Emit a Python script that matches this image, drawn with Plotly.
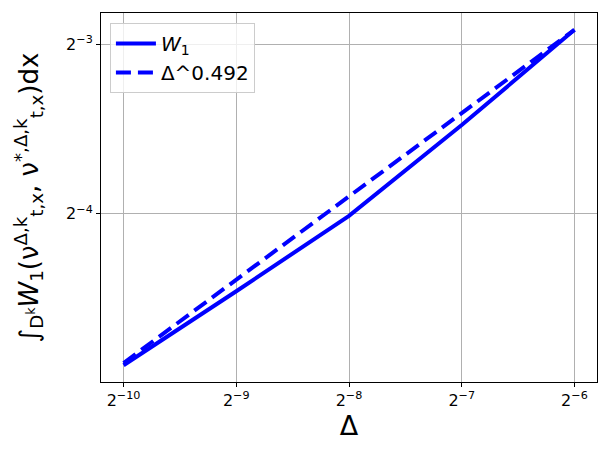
import math
import plotly.graph_objects as go

# Data
delta = [2**-10, 2**-9, 2**-8, 2**-7, 2**-6]
w1_values = [0.03363, 0.04553, 0.06198, 0.08988, 0.13277]
fit_values = [0.03394, 0.04773, 0.06713, 0.09440, 0.13277]
x_tick_vals = [2**-10, 2**-9, 2**-8, 2**-7, 2**-6]
x_tick_text = ["2<sup>−10</sup>", "2<sup>−9</sup>", "2<sup>−8</sup>", "2<sup>−7</sup>", "2<sup>−6</sup>"]
y_tick_vals = [2**-4, 2**-3]
y_tick_text = ["2<sup>−4</sup>", "2<sup>−3</sup>"]

FONT = "DejaVu Sans"


def log_range(vals, margin=0.05):
    lo = math.log10(min(vals))
    hi = math.log10(max(vals))
    span = hi - lo
    return [lo - margin * span, hi + margin * span]


fig = go.Figure()
fig.add_trace(go.Scatter(
    x=delta, y=w1_values, mode="lines", name="<i>W</i><sub>1</sub>",
    line=dict(color="#0000ff", width=4),
))
fig.add_trace(go.Scatter(
    x=delta, y=fit_values, mode="lines", name="Δ^0.492",
    line=dict(color="#0000ff", width=4, dash="15px,7px"),
))

axis_common = dict(
    type="log",
    automargin=False,
    showline=True, linecolor="black", linewidth=1, mirror=True,
    ticks="outside", ticklen=4, tickwidth=1, tickcolor="black",
    showgrid=True, gridcolor="#b0b0b0", gridwidth=1,
    zeroline=False,
    tickfont=dict(family=FONT, size=16, color="black"),
)

fig.update_xaxes(
    **axis_common,
    range=log_range(delta),
    tickvals=x_tick_vals, ticktext=x_tick_text,
    title=dict(text="Δ", font=dict(family=FONT, size=27, color="black"), standoff=2),
)
fig.update_yaxes(
    **axis_common,
    range=log_range(w1_values + fit_values),
    tickvals=y_tick_vals, ticktext=y_tick_text,
    title=dict(
        text="∫<sub>D<sup>k</sup></sub><i>W</i><sub>1</sub>(ν<sup>Δ,k</sup><sub>t,x</sub>, ν<sup>*,Δ,k</sup><sub>t,x</sub>)dx",
        font=dict(family=FONT, size=26, color="black"), standoff=20,
    ),
)

fig.update_layout(
    width=610, height=455,
    margin=dict(l=101, r=13, t=13, b=73),
    paper_bgcolor="white", plot_bgcolor="white",
    font=dict(family=FONT, color="black"),
    legend=dict(
        x=0.018, y=0.973, xanchor="left", yanchor="top",
        bgcolor="rgba(255,255,255,0.8)", bordercolor="#cccccc", borderwidth=1,
        font=dict(family=FONT, size=20, color="black"),
        itemwidth=40,
    ),
    showlegend=True,
)

fig.write_html(
    "out.html",
    config={"displayModeBar": False},
    post_script="document.body.style.margin='0';document.body.style.overflow='hidden';",
)
